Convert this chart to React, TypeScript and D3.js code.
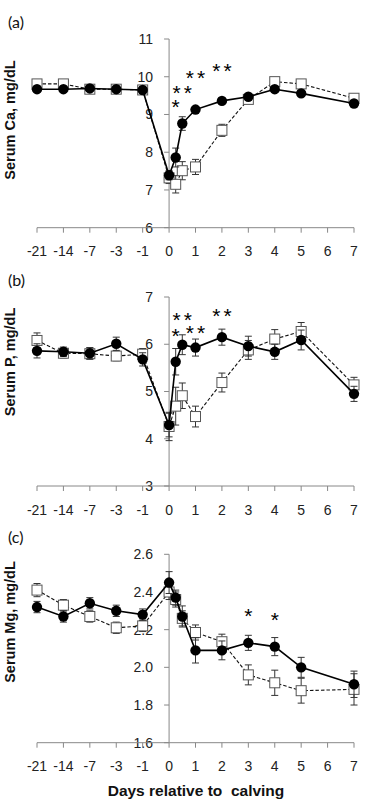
import React from "react";
import * as d3 from "d3";

// x positions: pre-calving sampling days plus post-calving days (0.25/0.5 = 6 h and 12 h)
const dayTicks = [-21, -14, -7, -3, -1, 0, 1, 2, 3, 4, 5, 6, 7];
const days = [-21, -14, -7, -3, -1, 0, 0.25, 0.5, 1, 2, 3, 4, 5, 7];

// Serum Ca (mg/dL)
const caFilled = [9.67, 9.67, 9.69, 9.67, 9.65, 7.39, 7.86, 8.76, 9.13, 9.36, 9.47, 9.67, 9.56, 9.29];
const caFilledSe = [0.06, 0.06, 0.06, 0.06, 0.06, 0.12, 0.25, 0.18, 0.07, 0.07, 0.07, 0.07, 0.07, 0.07];
const caOpen = [9.81, 9.81, 9.67, 9.67, 9.65, 7.32, 7.15, 7.51, 7.61, 8.58, 9.4, 9.87, 9.81, 9.43];
const caOpenSe = [0.06, 0.06, 0.06, 0.06, 0.06, 0.15, 0.23, 0.24, 0.2, 0.16, 0.08, 0.07, 0.07, 0.07];
const caStars = [
  { day: 0.25, count: 1, level: 9.34 },
  { day: 0.5, count: 2, level: 9.72 },
  { day: 1, count: 2, level: 10.11 },
  { day: 2, count: 2, level: 10.31 },
];

// Serum P (mg/dL)
const pFilled = [5.86, 5.84, 5.81, 6.01, 5.68, 4.29, 5.63, 5.99, 5.93, 6.15, 5.96, 5.84, 6.09, 4.95];
const pFilledSe = [0.15, 0.1, 0.12, 0.14, 0.14, 0.25, 0.28, 0.21, 0.18, 0.17, 0.21, 0.16, 0.21, 0.16];
const pOpen = [6.08, 5.81, 5.8, 5.75, 5.79, 4.26, 4.69, 4.91, 4.47, 5.19, 5.88, 6.11, 6.27, 5.14];
const pOpenSe = [0.16, 0.1, 0.12, 0.1, 0.12, 0.3, 0.4, 0.27, 0.22, 0.2, 0.2, 0.2, 0.19, 0.16];
const pStars = [
  { day: 0.25, count: 1, level: 6.29 },
  { day: 0.5, count: 2, level: 6.62 },
  { day: 1, count: 2, level: 6.36 },
  { day: 2, count: 2, level: 6.71 },
];

// Serum Mg (mg/dL)
const mgFilled = [2.32, 2.27, 2.34, 2.3, 2.28, 2.45, 2.37, 2.27, 2.09, 2.09, 2.13, 2.11, 2.0, 1.91];
const mgFilledSe = [0.03, 0.03, 0.03, 0.03, 0.03, 0.058, 0.04, 0.056, 0.067, 0.05, 0.04, 0.048, 0.053, 0.07];
const mgOpen = [2.41, 2.33, 2.27, 2.21, 2.22, 2.4, 2.36, 2.26, 2.185, 2.136, 1.96, 1.918, 1.876, 1.883];
const mgOpenSe = [0.035, 0.03, 0.03, 0.03, 0.03, 0.04, 0.04, 0.04, 0.04, 0.04, 0.053, 0.067, 0.066, 0.083];
const mgStars = [
  { day: 3, count: 1, level: 2.304 },
  { day: 4, count: 1, level: 2.278 },
];

const W = 376;
const H = 802;
const xLeft = 37;
const xRight = 354;
const step = (xRight - xLeft) / 12;

// piecewise scale: each pre-calving label gets one slot, post-calving is linear in days
const x = d3
  .scaleLinear()
  .domain([-21, -14, -7, -3, -1, 0, 7])
  .range([0, 1, 2, 3, 4, 5, 12].map((i) => xLeft + i * step));

const AXIS = "#888888";
const FONT = "'Liberation Sans', Arial, sans-serif";

type Star = { day: number; count: number; level: number };

function Panel(props: {
  tag: string;
  title: string;
  domain: [number, number];
  ticks: number[];
  fmt: (v: number) => string;
  top: number;
  bottom: number;
  titleY: number;
  filled: number[];
  filledSe: number[];
  open: number[];
  openSe: number[];
  stars: Star[];
}) {
  const { tag, title, domain, ticks, fmt, top, bottom, titleY, filled, filledSe, open, openSe, stars } = props;
  const y = d3.scaleLinear().domain(domain).range([bottom, top]);
  const line = d3
    .line<number>()
    .x((_, i) => x(days[i]))
    .y((v) => y(v));
  const x0 = x(0);

  const errorBars = (vals: number[], se: number[], key: string) =>
    vals.map((v, i) => {
      const cx = x(days[i]);
      const y1 = y(v + se[i]);
      const y2 = y(v - se[i]);
      return (
        <g key={key + i} stroke="#333" strokeWidth={1}>
          <line x1={cx} x2={cx} y1={y1} y2={y2} />
          <line x1={cx - 3.5} x2={cx + 3.5} y1={y1} y2={y1} />
          <line x1={cx - 3.5} x2={cx + 3.5} y1={y2} y2={y2} />
        </g>
      );
    });

  return (
    <g>
      <text x={8} y={top - 11} fontFamily="Lato, sans-serif" fontSize={16} fill="#111">
        {tag}
      </text>

      {/* y axis at day 0 */}
      <line x1={x0} x2={x0} y1={y(domain[1])} y2={bottom} stroke={AXIS} />
      {ticks.map((t) => (
        <g key={t}>
          <line x1={x0 - 5} x2={x0} y1={y(t)} y2={y(t)} stroke={AXIS} />
          <text
            x={153}
            y={y(t)}
            dy="0.35em"
            textAnchor="end"
            fontFamily={FONT}
            fontSize={14}
            fill="#222"
          >
            {fmt(t)}
          </text>
        </g>
      ))}

      {/* x axis */}
      <line x1={xLeft} x2={xRight} y1={bottom} y2={bottom} stroke={AXIS} />
      {dayTicks.map((d) => (
        <g key={d}>
          <line x1={x(d)} x2={x(d)} y1={bottom} y2={bottom + 5} stroke={AXIS} />
          <text
            x={x(d)}
            y={bottom + 28.5}
            textAnchor="middle"
            fontFamily={FONT}
            fontSize={14}
            fill="#222"
          >
            {d}
          </text>
        </g>
      ))}

      <text
        transform={`translate(15,${titleY}) rotate(-90)`}
        textAnchor="middle"
        fontFamily={FONT}
        fontWeight="bold"
        fontSize={14.5}
        fill="#111"
      >
        {title}
      </text>

      {/* open squares, dashed */}
      {errorBars(open, openSe, "o")}
      <path d={line(open) ?? ""} fill="none" stroke="#111" strokeWidth={1.1} strokeDasharray="3.5 2" />
      {open.map((v, i) => (
        <rect
          key={"s" + i}
          x={x(days[i]) - 5}
          y={y(v) - 5}
          width={10}
          height={10}
          fill="#fff"
          stroke="#555"
          strokeWidth={1}
        />
      ))}

      {/* filled circles, solid */}
      {errorBars(filled, filledSe, "f")}
      <path d={line(filled) ?? ""} fill="none" stroke="#000" strokeWidth={1.6} />
      {filled.map((v, i) => (
        <circle key={"c" + i} cx={x(days[i])} cy={y(v)} r={5.2} fill="#000" />
      ))}

      {/* significance marks; pairs are spaced 11px apart */}
      {stars.map((s, i) =>
        d3.range(s.count).map((k) => (
          <text
            key={"st" + i + "-" + k}
            x={x(s.day) + (s.count === 1 ? 0 : (k - 0.5) * 11.3)}
            y={y(s.level) + 12.5}
            textAnchor="middle"
            fontFamily={FONT}
            fontSize={21}
            fill="#000"
          >
            *
          </text>
        ))
      )}
    </g>
  );
}

export default function App() {
  const int = d3.format("d");
  const one = d3.format(".1f");
  return (
    <svg
      width={W}
      height={H}
      style={{ position: "absolute", left: 0, top: 0, background: "#fff" }}
    >
      <Panel
        tag="(a)"
        title="Serum Ca, mg/dL"
        domain={[6, 11]}
        ticks={d3.range(6, 11.01, 1)}
        fmt={int}
        top={39}
        bottom={227.7}
        titleY={120}
        filled={caFilled}
        filledSe={caFilledSe}
        open={caOpen}
        openSe={caOpenSe}
        stars={caStars}
      />
      <Panel
        tag="(b)"
        title="Serum P, mg/dL"
        domain={[3, 7]}
        ticks={d3.range(3, 7.01, 1)}
        fmt={int}
        top={297}
        bottom={486}
        titleY={362}
        filled={pFilled}
        filledSe={pFilledSe}
        open={pOpen}
        openSe={pOpenSe}
        stars={pStars}
      />
      <Panel
        tag="(c)"
        title="Serum Mg, mg/dL"
        domain={[1.6, 2.6]}
        ticks={d3.range(0, 6).map((i) => 1.6 + i * 0.2)}
        fmt={one}
        top={554.3}
        bottom={742.7}
        titleY={622}
        filled={mgFilled}
        filledSe={mgFilledSe}
        open={mgOpen}
        openSe={mgOpenSe}
        stars={mgStars}
      />
      <text
        x={196}
        y={796}
        textAnchor="middle"
        fontFamily={FONT}
        fontWeight="bold"
        fontSize={15.5}
        fill="#111"
        style={{ whiteSpace: "pre" }}
      >
        {"Days relative to  calving"}
      </text>
    </svg>
  );
}
